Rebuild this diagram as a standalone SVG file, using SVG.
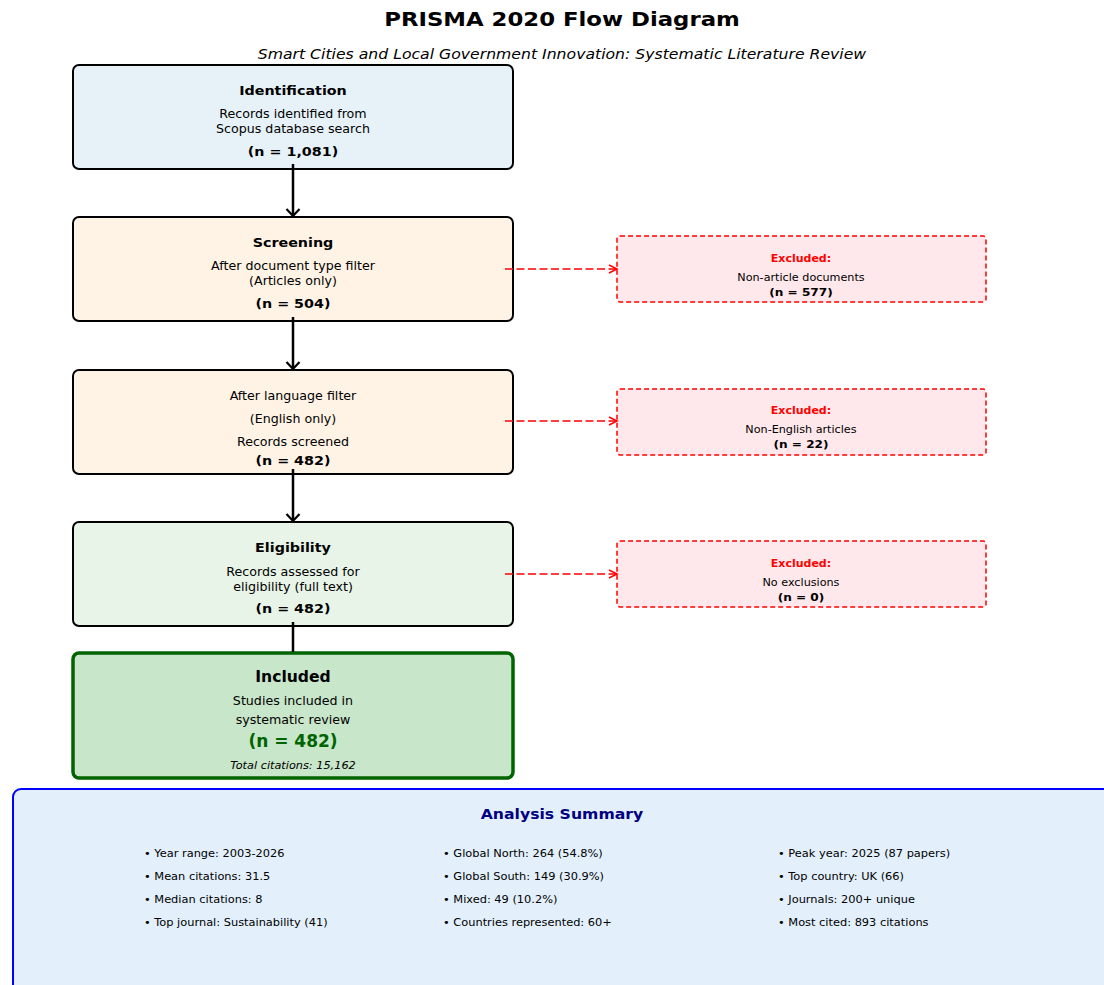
<svg xmlns="http://www.w3.org/2000/svg" width="1104" height="985" viewBox="0 0 1104 985">
<style>
text{font-family:"DejaVu Sans","Liberation Sans",sans-serif;text-anchor:middle;fill:#000;transform-box:fill-box;transform-origin:center;transform:scaleX(1.1)}
.b{font-weight:bold}
.main{stroke:#000;stroke-width:2}
.exc{fill:#ffe8eb;stroke:#ff0000;stroke-width:1.5;stroke-dasharray:5 3}
.t{font-size:13px;font-weight:bold}
.s{font-size:11.5px}
.n{font-size:13px;font-weight:bold}
.er{font-size:10px;font-weight:bold;fill:#ff0000}
.es{font-size:10px;transform:scaleX(1.12)}
.en{font-size:11px;font-weight:bold}
.sum{font-size:10.5px;text-anchor:start;transform-origin:left;transform:scaleX(1.085)}
.arr{stroke:#000;stroke-width:2.5;fill:none}
.darr{stroke:#ff0000;stroke-width:1.5;fill:none;stroke-dasharray:8 3.5}
</style>
<defs>
<marker id="ah" markerWidth="14" markerHeight="16" refX="8" refY="8" orient="auto" markerUnits="userSpaceOnUse">
<path d="M1,1.5 L8,8 L1,14.5" fill="none" stroke="#000" stroke-width="2.2"/>
</marker>
<marker id="ahr" markerWidth="12" markerHeight="10" refX="10" refY="5" orient="auto" markerUnits="userSpaceOnUse">
<path d="M2,1 L10,5 L2,9" fill="none" stroke="#ff0000" stroke-width="1.5"/>
</marker>
</defs>
<rect width="1104" height="985" fill="#fff"/>
<text x="562" y="26" class="b" style="font-size:20px;transform:scaleX(1.14)">PRISMA 2020 Flow Diagram</text>
<text x="562" y="59" style="font-size:14px;font-style:italic;transform:scaleX(1.12)">Smart Cities and Local Government Innovation: Systematic Literature Review</text>

<g id="identification">
<rect x="73" y="65" width="440" height="104" rx="6" fill="#e6f2f8" class="main"/>
<text x="293" y="95" class="t">Identification</text>
<text x="293" y="118" class="s">Records identified from</text>
<text x="293" y="133" class="s">Scopus database search</text>
<text x="293" y="156" class="n">(n = 1,081)</text>
</g>

<g id="screening">
<rect x="73" y="217" width="440" height="104" rx="6" fill="#fef3e5" class="main"/>
<text x="293" y="247" class="t">Screening</text>
<text x="293" y="270" class="s">After document type filter</text>
<text x="293" y="285" class="s">(Articles only)</text>
<text x="293" y="308" class="n">(n = 504)</text>
</g>

<g id="language">
<rect x="73" y="370" width="440" height="104" rx="6" fill="#fef3e5" class="main"/>
<text x="293" y="400" class="s">After language filter</text>
<text x="293" y="423" class="s">(English only)</text>
<text x="293" y="446" class="s">Records screened</text>
<text x="293" y="465" class="n">(n = 482)</text>
</g>

<g id="eligibility">
<rect x="73" y="522" width="440" height="104" rx="6" fill="#e7f4e7" class="main"/>
<text x="293" y="552" class="t">Eligibility</text>
<text x="293" y="576" class="s">Records assessed for</text>
<text x="293" y="591" class="s">eligibility (full text)</text>
<text x="293" y="613" class="n">(n = 482)</text>
</g>

<g id="included">
<rect x="73" y="653" width="440" height="125" rx="6" fill="#c8e6c9" stroke="#006400" stroke-width="3.5"/>
<text x="293" y="682" class="b" style="font-size:15px;transform:scaleX(1.04)">Included</text>
<text x="293" y="705" class="s">Studies included in</text>
<text x="293" y="724" class="s">systematic review</text>
<text x="293" y="747" class="b" style="font-size:17px;fill:#006400;transform:none">(n = 482)</text>
<text x="293" y="769" style="font-size:10px;font-style:italic;transform:scaleX(1.13)">Total citations: 15,162</text>
</g>

<g id="excluded1">
<rect x="617" y="236" width="369" height="66" rx="3" class="exc"/>
<text x="801" y="262" class="er">Excluded:</text>
<text x="801" y="281" class="es">Non-article documents</text>
<text x="801" y="296" class="en">(n = 577)</text>
</g>

<g id="excluded2">
<rect x="617" y="389" width="369" height="66" rx="3" class="exc"/>
<text x="801" y="414" class="er">Excluded:</text>
<text x="801" y="433" class="es">Non-English articles</text>
<text x="801" y="448" class="en">(n = 22)</text>
</g>

<g id="excluded3">
<rect x="617" y="541" width="369" height="66" rx="3" class="exc"/>
<text x="801" y="567" class="er">Excluded:</text>
<text x="801" y="586" class="es">No exclusions</text>
<text x="801" y="601" class="en">(n = 0)</text>
</g>

<g id="connectors">
<line x1="293" y1="164" x2="293" y2="216" class="arr" marker-end="url(#ah)"/>
<line x1="293" y1="317" x2="293" y2="369" class="arr" marker-end="url(#ah)"/>
<line x1="293" y1="469" x2="293" y2="521" class="arr" marker-end="url(#ah)"/>
<line x1="293" y1="622" x2="293" y2="652" class="arr"/>
<line x1="505" y1="269" x2="617" y2="269" class="darr" marker-end="url(#ahr)"/>
<line x1="505" y1="421" x2="617" y2="421" class="darr" marker-end="url(#ahr)"/>
<line x1="505" y1="574" x2="617" y2="574" class="darr" marker-end="url(#ahr)"/>
</g>

<g id="summary">
<rect x="13" y="789" width="1110" height="220" rx="8" fill="#e3f0fc" stroke="#0000ff" stroke-width="2"/>
<text x="562" y="819" class="b" style="font-size:14px;fill:#000080;transform:scaleX(1.12)">Analysis Summary</text>
<text x="144" y="857" class="sum">• Year range: 2003-2026</text>
<text x="144" y="880" class="sum">• Mean citations: 31.5</text>
<text x="144" y="903" class="sum">• Median citations: 8</text>
<text x="144" y="926" class="sum">• Top journal: Sustainability (41)</text>
<text x="443" y="857" class="sum">• Global North: 264 (54.8%)</text>
<text x="443" y="880" class="sum">• Global South: 149 (30.9%)</text>
<text x="443" y="903" class="sum">• Mixed: 49 (10.2%)</text>
<text x="443" y="926" class="sum">• Countries represented: 60+</text>
<text x="778" y="857" class="sum">• Peak year: 2025 (87 papers)</text>
<text x="778" y="880" class="sum">• Top country: UK (66)</text>
<text x="778" y="903" class="sum">• Journals: 200+ unique</text>
<text x="778" y="926" class="sum">• Most cited: 893 citations</text>
</g>
</svg>
